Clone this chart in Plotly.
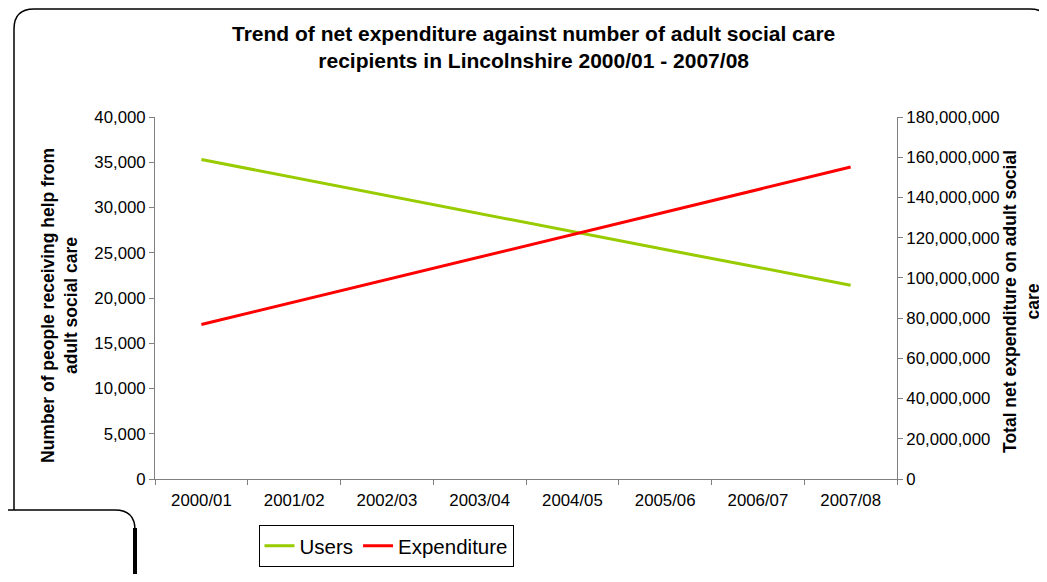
import plotly.graph_objects as go

years = ["2000/01", "2001/02", "2002/03", "2003/04", "2004/05", "2005/06", "2006/07", "2007/08"]
users = [35300, 33300, 31300, 29350, 27350, 25350, 23400, 21400]
expenditure = [76800000, 88000000, 99200000, 110400000, 121600000, 132700000, 143900000, 155100000]

# page offset of the figure div (default body margin)
OFF = 8
W, H = 1047 - OFF, 582 - 2 * OFF
# plot area in page pixels
L, R, T, B = 155, 897, 117, 479


def fx(x):
    return (x - L) / (R - L)


def fy(y):
    return (B - y) / (B - T)


def px(x, y):
    return f"{fx(x):.5f},{fy(y):.5f}"


FONT = "Liberation Sans, Arial, sans-serif"
AX = "#808080"
TF = 16.8

fig = go.Figure()
fig.add_trace(go.Scatter(x=years, y=users, name="Users", mode="lines",
                         line=dict(color="#99CC00", width=3), yaxis="y"))
fig.add_trace(go.Scatter(x=years, y=expenditure, name="Expenditure", mode="lines",
                         line=dict(color="#FF0000", width=3), yaxis="y2"))

fig.update_layout(
    width=W, height=H,
    margin=dict(l=L - OFF, r=W - (R - OFF), t=T - OFF, b=H - (B - OFF), autoexpand=False),
    paper_bgcolor="white", plot_bgcolor="white",
    font=dict(family=FONT, color="black", size=TF),
    showlegend=True,
    legend=dict(orientation="h", x=fx(386), xanchor="center",
                yref="container", y=1 - (546 - OFF) / H, yanchor="middle",
                bordercolor="black", borderwidth=1, bgcolor="white",
                font=dict(size=20.5, family=FONT), itemwidth=30, tracegroupgap=0),
    xaxis=dict(type="category", range=[-0.5, 7.5], tickson="boundaries",
               ticks="outside", ticklen=5, tickcolor=AX, showline=True,
               linecolor=AX, linewidth=1, showgrid=False, zeroline=False,
               tickfont=dict(size=TF), ticklabelstandoff=6, automargin=False),
    yaxis=dict(range=[0, 40000], dtick=5000, tickformat=",d", ticks="outside",
               ticklen=5, tickcolor=AX, showline=True, linecolor=AX, linewidth=1,
               showgrid=False, zeroline=False, tickfont=dict(size=TF), automargin=False),
    yaxis2=dict(range=[0, 180000000], dtick=20000000, tickformat=",d", overlaying="y",
                side="right", ticks="outside", ticklen=5, tickcolor=AX, showline=True,
                linecolor=AX, linewidth=1, showgrid=False, zeroline=False,
                tickfont=dict(size=TF), automargin=False),
)

fig.add_annotation(
    text="<b>Trend of net expenditure against number of adult social care<br>recipients in Lincolnshire 2000/01 - 2007/08</b>",
    xref="paper", yref="paper", x=fx(533), y=fy(47),
    xanchor="center", yanchor="middle", showarrow=False,
    font=dict(size=21, family=FONT, color="black"))

fig.add_annotation(
    text="<b>Number of people receiving help from<br>adult social care</b>",
    xref="paper", yref="paper", x=fx(59), y=fy(306),
    xanchor="center", yanchor="middle", textangle=-90, showarrow=False,
    font=dict(size=17.5, family=FONT, color="black"))

fig.add_annotation(
    text="<b>Total net expenditure on adult social<br>care</b>",
    xref="paper", yref="paper", x=fx(1021), y=fy(302),
    xanchor="center", yanchor="middle", textangle=-90, showarrow=False,
    font=dict(size=17.5, family=FONT, color="black"))

# outer rounded frame
fig.add_shape(type="path", xref="paper", yref="paper",
              path=f"M {px(14, 510)} L {px(14, 29)} Q {px(14, 9)} {px(34, 9)} "
                   f"L {px(1030, 9)} Q {px(1050, 9)} {px(1050, 29)} L {px(1050, 600)}",
              line=dict(color="black", width=1.5))
# bottom-left box
fig.add_shape(type="path", xref="paper", yref="paper",
              path=f"M {px(-5, 510)} L {px(115, 510)} Q {px(135, 510)} {px(135, 530)} L {px(135, 600)}",
              line=dict(color="black", width=1.5))
fig.add_shape(type="line", xref="paper", yref="paper",
              x0=fx(135), x1=fx(135), y0=fy(528), y1=fy(600),
              line=dict(color="black", width=4))

fig.write_html("out.html")
